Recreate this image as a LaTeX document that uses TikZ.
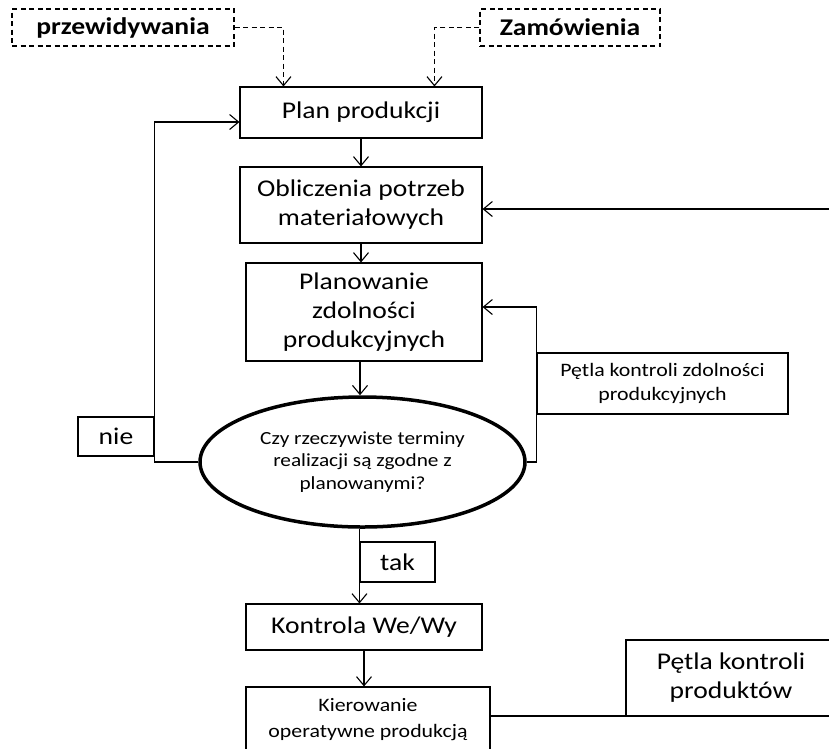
\documentclass[tikz,border=0pt]{standalone}
\usepackage{fontspec}
\setmainfont{Carlito}[FakeStretch=1.15]
\usetikzlibrary{arrows.meta,shapes.geometric}
\begin{document}
\begin{tikzpicture}[x=1pt,y=-1pt,
  box/.style={draw, line width=1.1pt, inner sep=0pt, align=center, font=\fontsize{24}{29}\selectfont},
  dbox/.style={box, dash pattern=on 5pt off 3.5pt, font=\fontsize{24}{29}\selectfont\bfseries},
  ell/.style={draw, ellipse, line width=3.5pt, inner sep=0pt, font=\fontsize{18.5}{22.5}\selectfont},
  arr/.style={-{Straight Barb[length=9pt,width=15pt]}, line width=1.1pt},
  darr/.style={arr, dash pattern=on 5pt off 3.5pt},
  plain/.style={line width=1.1pt}
]
\useasboundingbox (0,0) rectangle (829,748);
\clip (0,0) rectangle (829,748);
\node[dbox, minimum width=222, minimum height=37] (przew) at (123,27.5) {przewidywania};
\node[dbox, minimum width=180, minimum height=37] (zam) at (570,27.5) {Zamówienia};
\node[box, minimum width=242, minimum height=51] (plan) at (361,112.5) {\raisebox{5pt}{Plan produkcji}};
\node[box, minimum width=242, minimum height=76] (obl) at (361,205) {Obliczenia potrzeb\\materiałowych};
\node[box, minimum width=236, minimum height=98] (pzp) at (364,312) {Planowanie\\zdolności\\produkcyjnych};
\node[ell, minimum width=325, minimum height=130] (q) at (362.5,462) {\raisebox{6pt}{\begin{tabular}{@{}c@{}}Czy rzeczywiste terminy\\realizacji są zgodne z\\planowanymi?\end{tabular}}};
\node[box, minimum width=236, minimum height=46] (kwe) at (364,627) {Kontrola We/Wy};
\node[box, minimum width=244, minimum height=66, font=\fontsize{19}{26}\selectfont] (kier) at (368,720) {Kierowanie\\operatywne produkcją};
\node[box, minimum width=251, minimum height=61, font=\fontsize{19}{24}\selectfont] (pz) at (662.5,383.5) {Pętla kontroli zdolności\\produkcyjnych};
\node[box, minimum width=76, minimum height=39] (nie) at (116,436.5) {nie};
\node[box, minimum width=75, minimum height=40] (tak) at (397.5,562) {tak};
\node[box, minimum width=210, minimum height=76] (pp) at (731,678) {Pętla kontroli\\produktów};
\coordinate (rin) at (835,209);
\coordinate (rout) at (835,716);
\coordinate (pin) at ([yshift=-9.5pt]plan.west);
\coordinate (pzin) at ([yshift=5pt]pzp.east);
\coordinate (oin) at ([yshift=-4pt]obl.east);
\coordinate (kout) at ([yshift=4pt]kier.east);
\coordinate (d1) at ([xshift=44pt]plan.north west);
\coordinate (d2) at ([xshift=195pt]plan.north west);
\draw[darr] (przew.east) -| (d1);
\draw[darr] (zam.west) -| (d2);
\draw[arr] (plan.south) -- (obl.north);
\draw[arr] (obl.south) -- (obl.south |- pzp.north);
\draw[arr] ([xshift=-4pt]pzp.south) -- ([xshift=-4pt]pzp.south |- q.north);
\draw[arr] (q.south -| tak.west) -- (tak.west |- kwe.north);
\draw[arr] (kwe.south) -- (kwe.south |- kier.north);
\draw[arr] (q.west) -- (q.west -| nie.east) -- (nie.east |- pin) -- (pin);
\draw[arr] (q.east) -- (q.east -| pz.west) -- (pz.west |- pzin) -- (pzin);
\draw[arr] (oin -| rin) -- (oin);
\draw[plain] (kout) -- (kout -| rout);
\end{tikzpicture}
\end{document}
